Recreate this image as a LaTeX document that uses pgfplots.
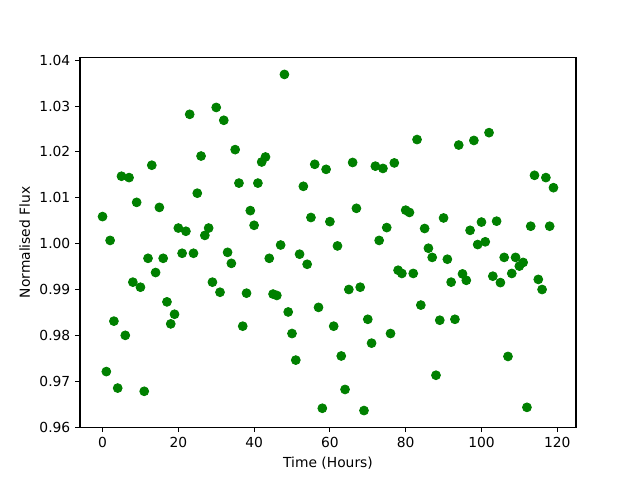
\documentclass[border=0pt]{standalone}
\usepackage{fontspec}
\setmainfont{DejaVu Sans}
\usepackage{pgfplots}
\pgfplotsset{compat=1.18}
\definecolor{mplgreen}{RGB}{0,128,0}
\begin{document}
\begin{tikzpicture}
\begin{axis}[
  scale only axis,
  width=4.96in, height=3.696in,
  xmin=-5.95, xmax=124.95,
  ymin=0.95997, ymax=1.04057,
  xtick={0,20,40,60,80,100,120},
  ytick={0.96,0.97,0.98,0.99,1.00,1.01,1.02,1.03,1.04},
  yticklabel style={/pgf/number format/.cd,fixed,fixed zerofill,precision=2},
  scaled y ticks=false,
  /pgf/number format/assume math mode=true,
  tick align=outside,
  major tick length=3.5pt,
  tick style={line width=0.8pt, black},
  axis line style={line width=0.8pt},
  tick pos=left,
  font=\fontsize{10}{12}\selectfont,
  xlabel={Time (Hours)},
  ylabel={Normalised Flux},
  clip=false,
]
\addplot[only marks, mark=*, mark size=3.2pt, mplgreen, mark options={draw=mplgreen, fill=mplgreen, line width=0.6pt}] table {
x y
0 1.0059
1 0.9721
2 1.0007
3 0.9831
4 0.9685
5 1.0147
6 0.9800
7 1.0144
8 0.9916
9 1.0090
10 0.9905
11 0.9678
12 0.9968
13 1.0171
14 0.9937
15 1.0079
16 0.9968
17 0.9873
18 0.9825
19 0.9846
20 1.0034
21 0.9979
22 1.0027
23 1.0282
24 0.9979
25 1.0110
26 1.0191
27 1.0018
28 1.0034
29 0.9916
30 1.0297
31 0.9894
32 1.0269
33 0.9981
34 0.9957
35 1.0205
36 1.0132
37 0.9820
38 0.9892
39 1.0072
40 1.0040
41 1.0132
42 1.0178
43 1.0189
44 0.9968
45 0.9890
46 0.9887
47 0.9997
48 1.0369
49 0.9851
50 0.9804
51 0.9746
52 0.9977
53 1.0125
54 0.9955
55 1.0057
56 1.0173
57 0.9861
58 0.9641
59 1.0162
60 1.0048
61 0.9820
62 0.9995
63 0.9755
64 0.9682
65 0.9900
66 1.0177
67 1.0077
68 0.9905
69 0.9636
70 0.9835
71 0.9783
72 1.0169
73 1.0007
74 1.0164
75 1.0035
76 0.9804
77 1.0176
78 0.9942
79 0.9935
80 1.0073
81 1.0068
82 0.9935
83 1.0227
84 0.9866
85 1.0033
86 0.9990
87 0.9970
88 0.9713
89 0.9833
90 1.0056
91 0.9966
92 0.9916
93 0.9835
94 1.0215
95 0.9934
96 0.9920
97 1.0029
98 1.0225
99 0.9998
100 1.0047
101 1.0004
102 1.0242
103 0.9929
104 1.0049
105 0.9915
106 0.9970
107 0.9754
108 0.9935
109 0.9970
110 0.9951
111 0.9959
112 0.9643
113 1.0038
114 1.0149
115 0.9922
116 0.9900
117 1.0144
118 1.0038
119 1.0122
};
\end{axis}
\path (current axis.south west) ++(-0.8in,-0.528in) coordinate (bbsw);
\path (current axis.north east) ++(0.64in,0.576in) coordinate (bbne);
\useasboundingbox (bbsw) rectangle (bbne);
\end{tikzpicture}
\end{document}
